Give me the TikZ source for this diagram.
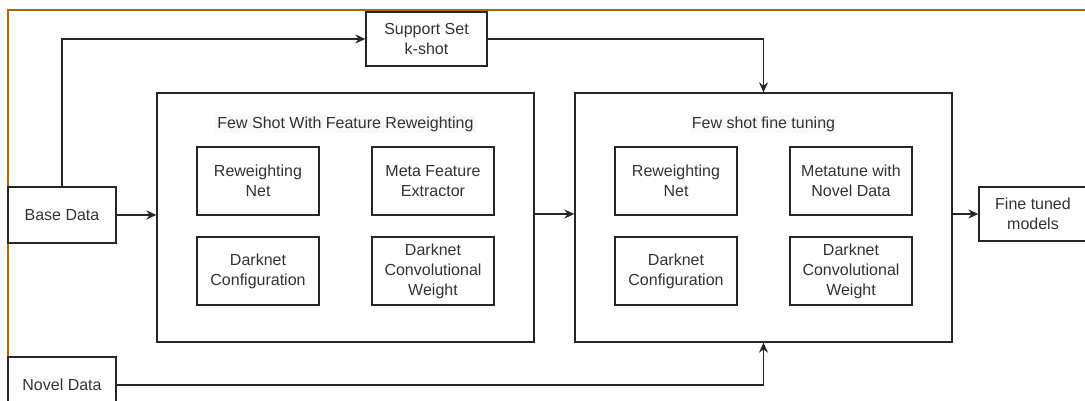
\documentclass[tikz,border=0pt]{standalone}
\usepackage{fontspec}
\setmainfont{Liberation Sans}
\usetikzlibrary{arrows.meta}
\definecolor{frameorange}{HTML}{B46504}
\definecolor{titlebg}{HTML}{F8F9FA}
\begin{document}
\begin{tikzpicture}[x=1pt,y=-1pt,
   every node/.style={font=\fontsize{16}{20}\selectfont,text=black!80},
   databox/.style={draw=black!85,line width=1.3pt,fill=white,align=center,
      minimum width=108pt,minimum height=56pt,inner sep=0pt},
   blockbox/.style={draw=black!85,line width=1.3pt,minimum width=377pt,
      minimum height=249pt,inner sep=0pt},
   partbox/.style={draw=black!85,line width=1.3pt,align=center,
      minimum width=122pt,minimum height=68pt,inner sep=0pt},
   blocktitle/.style={fill=titlebg,inner sep=2pt},
   flow/.style={draw=black!85,line width=1.3pt,-{Stealth[length=10pt,width=9pt]}}]
\clip (0,0) rectangle (1085,401);
\fill[white] (0,0) rectangle (1085,401);
\draw[frameorange,line width=2pt] (8,420) -- (8,10) -- (1100,10);

\node[databox] (base) at (62,215) {Base Data};
\node[databox] (novel) at (62,385) {Novel Data};
\node[databox,minimum width=121pt,minimum height=54pt] (support) at (426.5,39) {Support Set\\k-shot};
\node[databox,minimum height=54pt] (tuned) at (1033,214) {Fine tuned\\models};

\node[blockbox] (fewshot) at (345.5,217.5) {};
\node[blocktitle] (fewtitle) at (345.5,124) {Few Shot With Feature Reweighting};
\node[partbox] (fwnet) at (258,181) {Reweighting\\Net};
\node[partbox] (fwmeta) at (433,181) {Meta Feature\\Extractor};
\node[partbox] (fwconf) at (258,271) {Darknet\\Configuration};
\node[partbox] (fwconv) at (433,271) {Darknet\\Convolutional\\Weight};

\node[blockbox] (finetune) at (763.5,217.5) {};
\node[blocktitle] (finetitle) at (763.5,124) {Few shot fine tuning};
\node[partbox] (ftnet) at (676,181) {Reweighting\\Net};
\node[partbox] (ftmeta) at (851,181) {Metatune with\\Novel Data};
\node[partbox] (ftconf) at (676,271) {Darknet\\Configuration};
\node[partbox] (ftconv) at (851,271) {Darknet\\Convolutional\\Weight};

\draw[flow] (base.east) -- (base.east -| fewshot.west);
\draw[flow] (base.north) |- (support.west);
\draw[flow] (support.east) -| (finetune.north);
\draw[flow] (fewshot.east |- tuned.west) -- (finetune.west |- tuned.west);
\draw[flow] (finetune.east |- tuned.west) -- (tuned.west);
\draw[flow] (novel.east) -| (finetune.south);
\end{tikzpicture}
\end{document}
